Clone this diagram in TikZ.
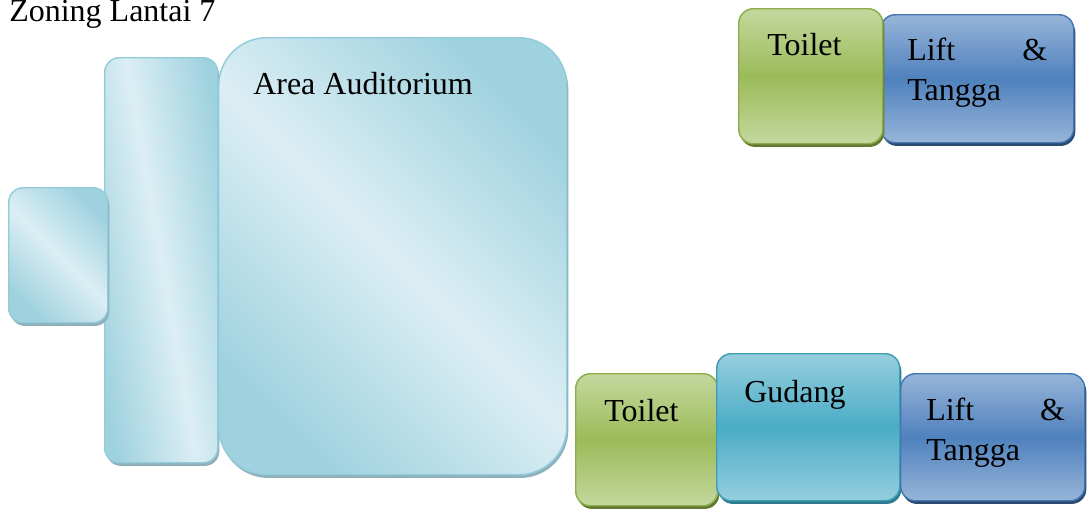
\documentclass[tikz,border=0pt]{standalone}
\usepackage{fontspec}
\setmainfont{Liberation Serif}
\usepackage{tikz}
\usetikzlibrary{shadows}
\usepackage{xcolor}

\definecolor{paledark}{HTML}{9FD2DF}
\definecolor{palelight}{HTML}{DCEEF4}
\definecolor{paleedge}{HTML}{92CCDB}
\definecolor{paleshadow}{HTML}{8FB0BB}
\definecolor{greenlight}{HTML}{C4D89E}
\definecolor{greendark}{HTML}{9BBB59}
\definecolor{greenedge}{HTML}{8DAD4C}
\definecolor{greenshadow}{HTML}{62792F}
\definecolor{bluelight}{HTML}{97B5D9}
\definecolor{bluedark}{HTML}{4F81BD}
\definecolor{blueedge}{HTML}{4777B3}
\definecolor{blueshadow}{HTML}{2B4A72}
\definecolor{teallight}{HTML}{95CEDE}
\definecolor{tealdark}{HTML}{4BACC6}
\definecolor{tealedge}{HTML}{3E9CB6}
\definecolor{tealshadow}{HTML}{2E7A8F}

\begin{document}
\begin{tikzpicture}[x=0.75pt,y=-0.75pt]
  \tikzset{zone/.style={line width=1.1pt,rounded corners=11pt,anchor=north west,inner sep=0pt}}
  \tikzset{palezone/.style={zone,draw=paleedge,left color=paledark,right color=paledark,middle color=palelight,shading angle=135,
      drop shadow={shadow xshift=1.2pt,shadow yshift=-2.4pt,fill=paleshadow,opacity=1}}}
  \tikzset{greenzone/.style={zone,draw=greenedge,top color=greenlight,bottom color=greenlight,middle color=greendark,
      drop shadow={shadow xshift=1.2pt,shadow yshift=-2.4pt,fill=greenshadow,opacity=1}}}
  \tikzset{bluezone/.style={zone,draw=blueedge,top color=bluelight,bottom color=bluelight,middle color=bluedark,
      drop shadow={shadow xshift=1.2pt,shadow yshift=-2.4pt,fill=blueshadow,opacity=1}}}
  \tikzset{tealzone/.style={zone,draw=tealedge,top color=teallight,bottom color=teallight,middle color=tealdark,
      drop shadow={shadow xshift=1.2pt,shadow yshift=-2.4pt,fill=tealshadow,opacity=1}}}
  \tikzset{zonelabel/.style={font=\fontsize{24}{30}\selectfont,inner sep=0pt,anchor=base west,text=black}}
  \useasboundingbox (0,0) rectangle (1087,508);
  \node[zonelabel] (title) at (9,21) {Zoning Lantai 7};
  \node[palezone,minimum width=84.75pt,minimum height=303.75pt,shading angle=100] (corridor) at (104,57) {};
  \node[palezone,minimum width=74.25pt,minimum height=101.25pt] (lobby) at (8,187) {};
  \node[palezone,minimum width=261pt,minimum height=327.75pt,rounded corners=36pt] (audit) at (218,37) {};
  \node[zonelabel] (auditlabel) at (253,94) {Area Auditorium};
  \node[bluezone,minimum width=144.75pt,minimum height=96pt] (liftA) at (880,14) {};
  \node[greenzone,minimum width=108pt,minimum height=101.25pt] (toiletA) at (738,8) {};
  \node[zonelabel] (toiletAlabel) at (767,55) {Toilet};
  \node[zonelabel,text width=105pt,align=left] (liftAlabel) at (907,60) {Lift\hfill\&\\Tangga};
  \node[greenzone,minimum width=106.5pt,minimum height=99pt] (toiletB) at (575,373) {};
  \node[tealzone,minimum width=137.25pt,minimum height=110.25pt] (gudang) at (716,353) {};
  \node[bluezone,minimum width=138pt,minimum height=95.25pt] (liftB) at (900,373) {};
  \node[zonelabel] (toiletBlabel) at (604,421) {Toilet};
  \node[zonelabel] (gudanglabel) at (744,402) {Gudang};
  \node[zonelabel,text width=104pt,align=left] (liftBlabel) at (926,420) {Lift\hfill\&\\Tangga};
\end{tikzpicture}
\end{document}
